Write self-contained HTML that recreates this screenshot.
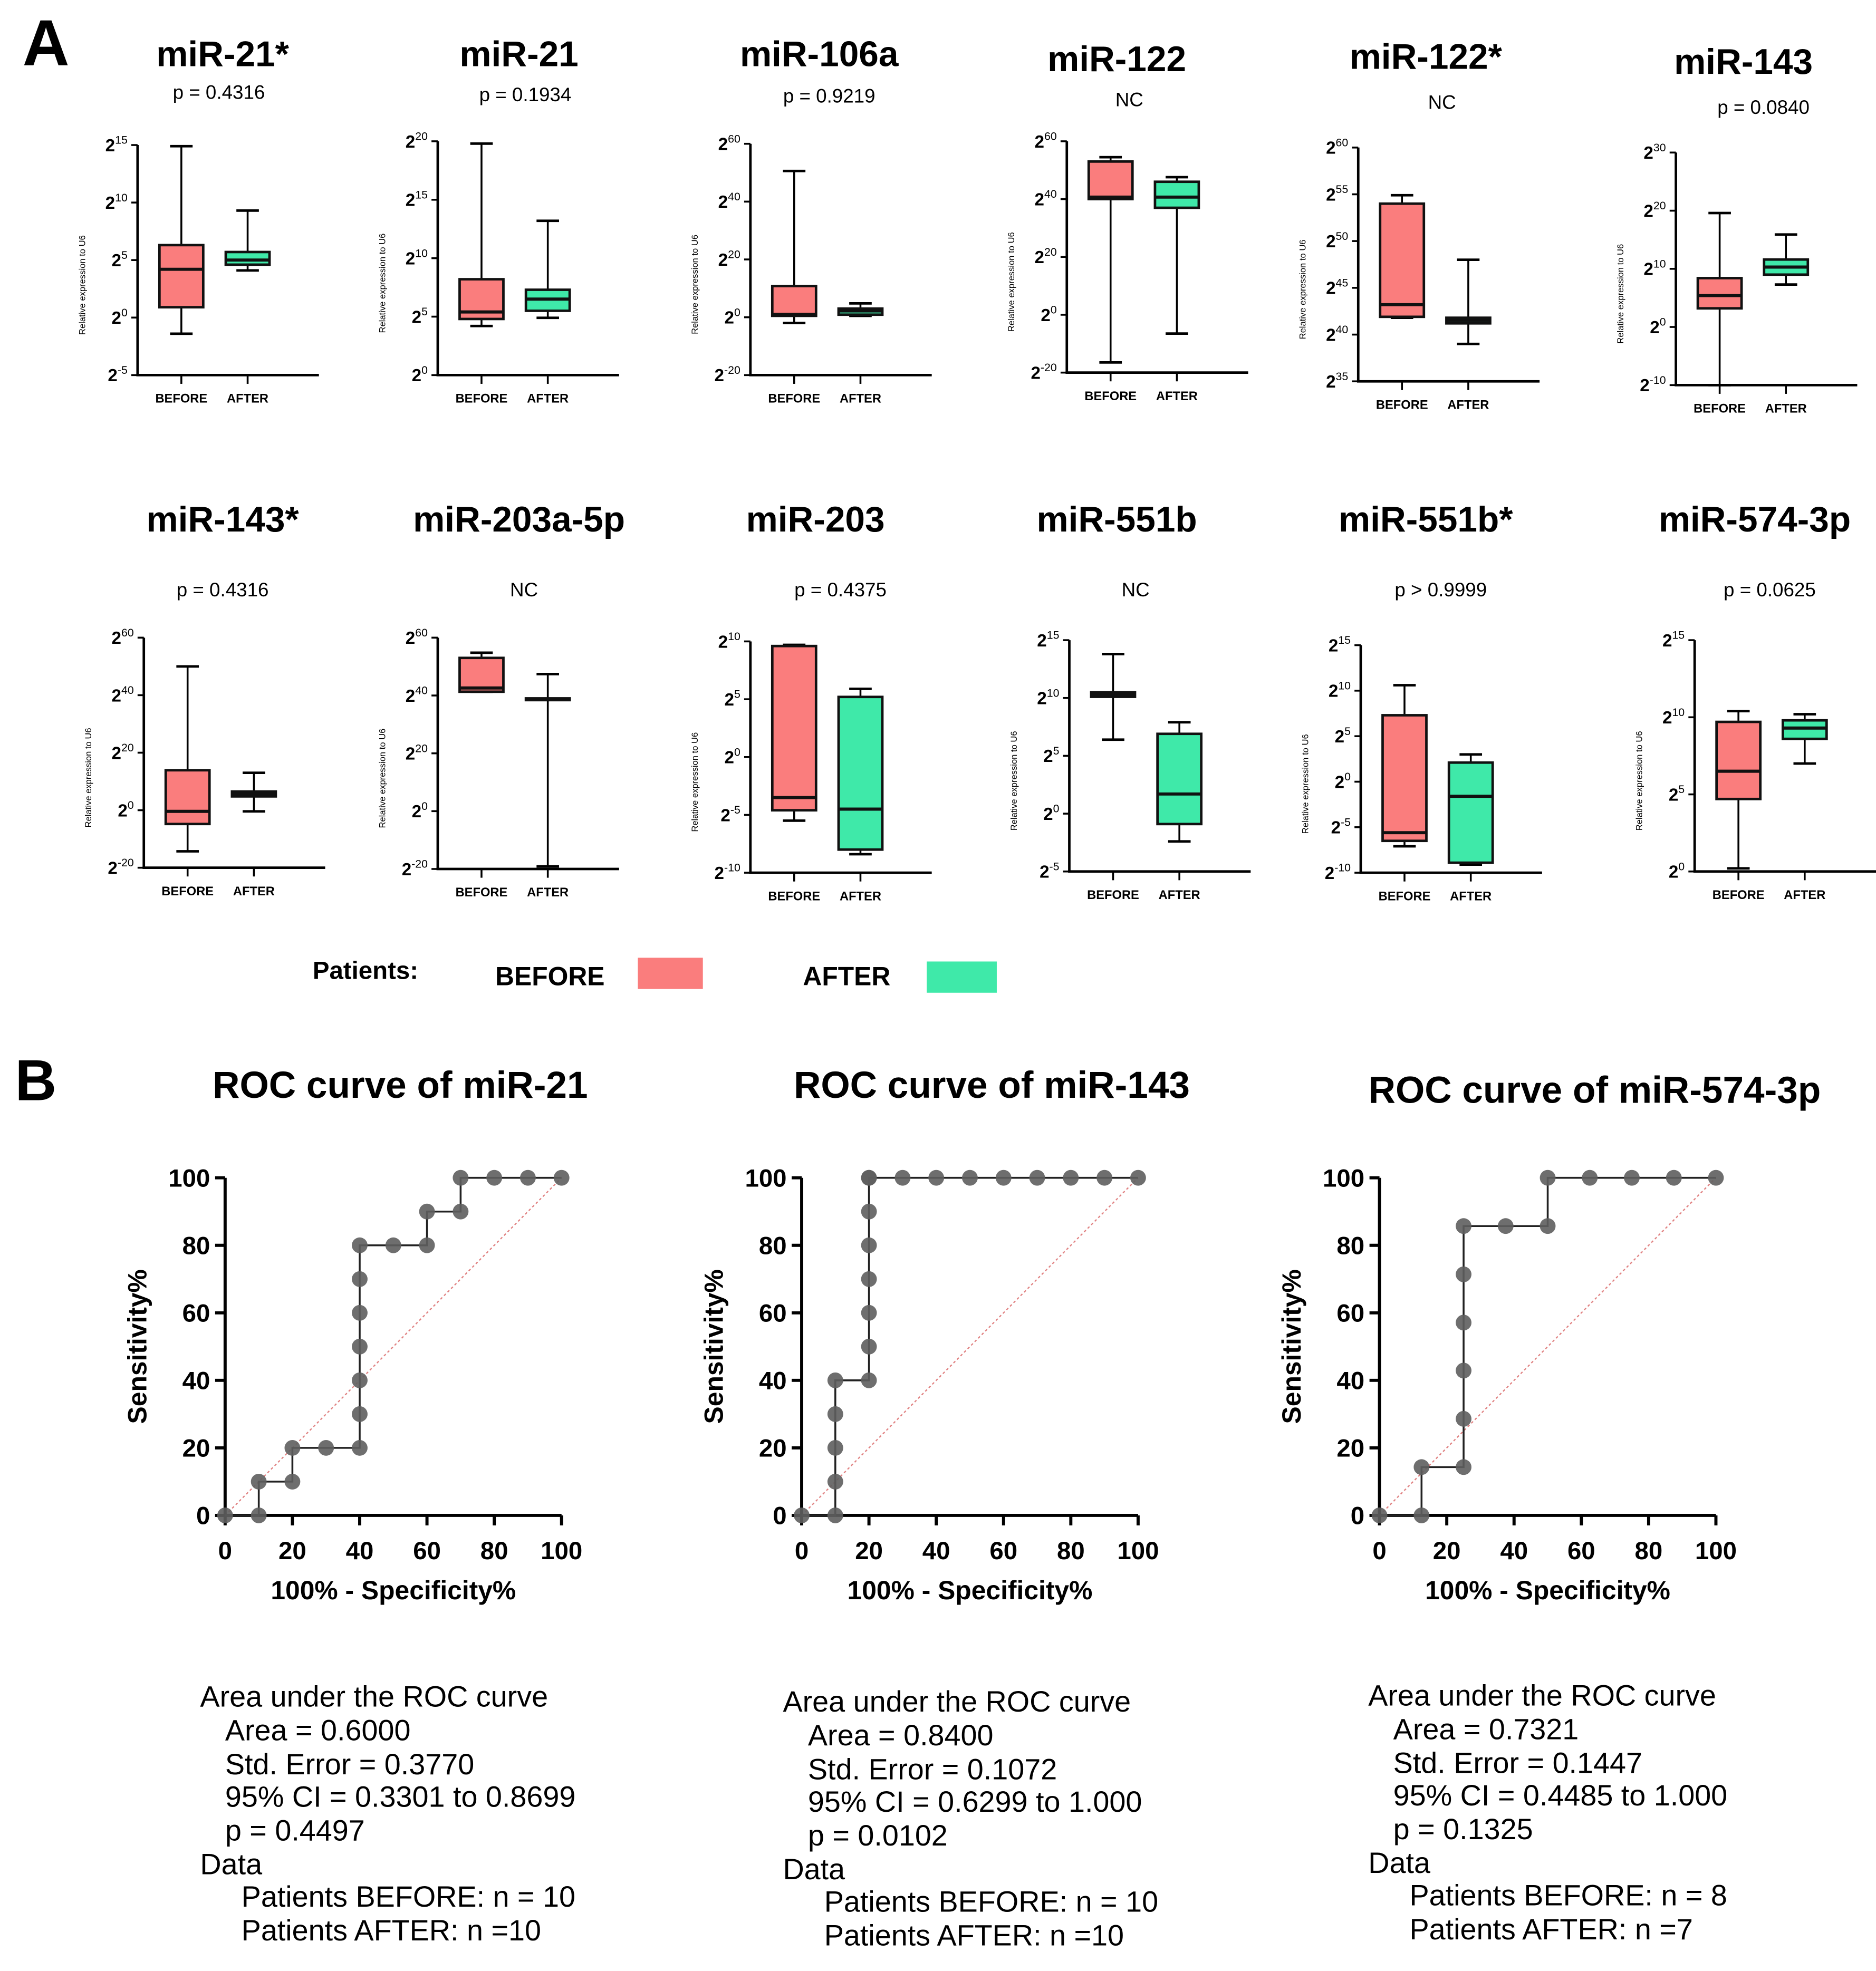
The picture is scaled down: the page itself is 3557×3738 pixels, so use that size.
<!DOCTYPE html>
<html><head><meta charset="utf-8"><style>
html,body{margin:0;padding:0;background:#fff;}
svg{display:block;}
text{font-family:"Liberation Sans",Arial,sans-serif;fill:#000;}
</style></head><body>
<svg id="fig" width="3557" height="3738" viewBox="0 0 1500 1576.4" preserveAspectRatio="none" xmlns="http://www.w3.org/2000/svg"></svg>
<script>
// ---- Box plot data (log2 exponents: min, q1, median, q3, max) ----
const boxTitles = ["miR-21*","miR-21","miR-106a","miR-122","miR-122*","miR-143","miR-143*","miR-203a-5p","miR-203","miR-551b","miR-551b*","miR-574-3p"];
const boxPvals = ["p = 0.4316","p = 0.1934","p = 0.9219","NC","NC","p = 0.0840","p = 0.4316","NC","p = 0.4375","NC","p > 0.9999","p = 0.0625"];
const beforeStats = [
  [-1.4,0.9,4.2,6.3,14.9],[4.2,4.8,5.4,8.2,19.8],[-2,0.5,1,10.8,50.6],[-16.5,40,40.7,53,54.5],
  [41.8,41.9,43.2,54,54.9],[-10,3.2,5.4,8.4,19.6],[-14.3,-4.8,-0.4,13.9,50],[41.3,41.3,42.6,53,54.8],
  [-5.5,-4.6,-3.5,9.6,9.7],[6.4,10.1,10.3,10.5,13.8],[-7.1,-6.5,-5.6,7.3,10.6],[0.2,4.7,6.5,9.7,10.4]];
const afterStats = [
  [4.1,4.6,5,5.7,9.3],[4.9,5.5,6.5,7.3,13.2],[0.5,0.9,2.2,3,4.8],[-6.5,37,40.7,46,47.6],
  [39,41.2,41.5,41.8,48],[7.3,9,10.3,11.6,15.9],[-0.4,4.8,5.6,6.5,13],[-19.1,38.4,38.7,39,47.4],
  [-8.4,-8,-4.5,5.2,5.9],[-2.4,-0.9,1.7,6.9,7.9],[-9.1,-8.9,-1.6,2.1,3],[7,8.6,9.3,9.8,10.2]];
const boxTicks = [[15,10,5,0,-5],[20,15,10,5,0],[60,40,20,0,-20],[60,40,20,0,-20],[60,55,50,45,40,35],[30,20,10,0,-10],
  [60,40,20,0,-20],[60,40,20,0,-20],[10,5,0,-5,-10],[15,10,5,0,-5],[15,10,5,0,-5,-10],[15,10,5,0]];
const groupLabels = ["BEFORE","AFTER"];
// ---- ROC data ----
const rocTitles = ["ROC curve of miR-21","ROC curve of miR-143","ROC curve of miR-574-3p"];
const roc1X = [0,10,10,20,20,30,40,40,40,40,40,40,40,50,60,60,70,70,80,90,100];
const roc1Y = [0,0,10,10,20,20,20,30,40,50,60,70,80,80,80,90,90,100,100,100,100];
const roc2X = [0,10,10,10,10,10,20,20,20,20,20,20,20,20,30,40,50,60,70,80,90,100];
const roc2Y = [0,0,10,20,30,40,40,50,60,70,80,90,100,100,100,100,100,100,100,100,100,100];
const roc3X = [0,12.5,12.5,25,25,25,25,25,25,37.5,50,50,62.5,75,87.5,100];
const roc3Y = [0,0,14.3,14.3,28.6,42.9,57.1,71.4,85.7,85.7,85.7,100,100,100,100,100];
const rocTicks = [0,20,40,60,80,100];
const rocText = [
 ["Area under the ROC curve","Area = 0.6000","Std. Error = 0.3770","95% CI = 0.3301 to 0.8699","p = 0.4497","Data","Patients BEFORE: n = 10","Patients AFTER: n =10"],
 ["Area under the ROC curve","Area = 0.8400","Std. Error = 0.1072","95% CI = 0.6299 to 1.000","p = 0.0102","Data","Patients BEFORE: n = 10","Patients AFTER: n =10"],
 ["Area under the ROC curve","Area = 0.7321","Std. Error = 0.1447","95% CI = 0.4485 to 1.000","p = 0.1325","Data","Patients BEFORE: n = 8","Patients AFTER: n =7"]];

// ---- layout (not data) ----
const panelLayout = [
 {ax:110,top:116,bot:300,tx:178,ty:43,px:175,py:74},
 {ax:350,top:113,bot:300,tx:415,ty:43,px:420,py:76},
 {ax:600,top:115,bot:300,tx:655,ty:43,px:663,py:77},
 {ax:853,top:113,bot:298,tx:893,ty:47,px:903,py:80},
 {ax:1086,top:118,bot:305,tx:1140,ty:45,px:1153,py:82},
 {ax:1340,top:122,bot:308,tx:1394,ty:49,px:1410,py:86},
 {ax:115,top:510,bot:694,tx:178,ty:415,px:178,py:472},
 {ax:350,top:510,bot:695,tx:415,ty:415,px:419,py:472},
 {ax:600,top:513,bot:698,tx:652,ty:415,px:672,py:472},
 {ax:855,top:512,bot:697,tx:893,ty:415,px:908,py:472},
 {ax:1088,top:516,bot:698,tx:1140,ty:415,px:1152,py:472},
 {ax:1355,top:512,bot:697,tx:1403,ty:415,px:1415,py:472}];
const NS="http://www.w3.org/2000/svg";
const svg=document.getElementById('fig');
function mk(tag,attrs,parent,txt){const e=document.createElementNS(NS,tag);for(const k in attrs)e.setAttribute(k,attrs[k]);if(txt!==undefined)e.textContent=txt;(parent||svg).appendChild(e);return e;}

function label(x,y,s,size,weight,anchor,name){const t=mk('text',{x:x,y:y,'font-size':size,'font-weight':weight||'normal','text-anchor':anchor||'start'},svg,s);

return t;}

label(18,52,"A",52,'bold','start','panel-a-label');
label(12,880,"B",46,'bold','start','panel-b-label');

const fills=["#fa7d7d","#3fe9a9"];
boxTitles.forEach((title,i)=>{
  const L=panelLayout[i], ticks=boxTicks[i];
  const tmax=Math.max(...ticks), tmin=Math.min(...ticks);
  const y=v=>L.bot-(v-tmin)/(tmax-tmin)*(L.bot-L.top);
  const g=mk('g',{});
  
  
  const tt=mk('text',{x:L.tx,y:L.ty+10,'font-size':28.5,'font-weight':'bold','text-anchor':'middle'},g,title);
  
  
  const pt=mk('text',{x:L.px,y:L.py+5,'font-size':15.5,'text-anchor':'middle'},g,boxPvals[i]);
  
  
  mk('line',{x1:L.ax,y1:L.top,x2:L.ax,y2:L.bot,stroke:'#000','stroke-width':2},g);
  mk('line',{x1:L.ax-1,y1:L.bot,x2:L.ax+145,y2:L.bot,stroke:'#000','stroke-width':2},g);
  ticks.forEach(t=>{
    mk('line',{x1:L.ax-5,y1:y(t),x2:L.ax,y2:y(t),stroke:'#000','stroke-width':1.5},g);
    const tl=mk('text',{x:L.ax-8,y:y(t)+5,'font-size':14,'font-weight':'bold','text-anchor':'end'},g);
    
    
    mk('tspan',{},tl,'2');
    mk('tspan',{'font-size':9,'font-weight':'normal',dy:-6},tl,String(t));
  });
  const yl=mk('text',{x:0,y:0,'font-size':7,'text-anchor':'middle',transform:`translate(${L.ax-42},${(L.top+L.bot)/2+20}) rotate(-90)`},g,'Relative expression to U6');
  
  
  [beforeStats[i],afterStats[i]].forEach((s,k)=>{
    const cx=L.ax+35+k*53, w=35;
    mk('line',{x1:cx,y1:L.bot,x2:cx,y2:L.bot+7,stroke:'#000','stroke-width':1.5},g);
    const cl=mk('text',{x:cx,y:L.bot+22,'font-size':10,'font-weight':'bold','text-anchor':'middle'},g,groupLabels[k]);
    
    
    mk('line',{x1:cx,y1:y(s[0]),x2:cx,y2:y(s[4]),stroke:'#000','stroke-width':1.5},g);
    mk('line',{x1:cx-9,y1:y(s[0]),x2:cx+9,y2:y(s[0]),stroke:'#000','stroke-width':2},g);
    mk('line',{x1:cx-9,y1:y(s[4]),x2:cx+9,y2:y(s[4]),stroke:'#000','stroke-width':2},g);
    const r=mk('rect',{x:cx-w/2,y:y(s[3]),width:w,height:Math.max(1,y(s[1])-y(s[3])),fill:fills[k],stroke:'#111','stroke-width':2},g);
    
    
    mk('line',{x1:cx-w/2,y1:y(s[2]),x2:cx+w/2,y2:y(s[2]),stroke:'#111','stroke-width':2.5},g);
  });
});

// legend
label(250,783,"Patients:",20,'bold','start','legend-title');
label(396,788,"BEFORE",21,'bold','start','legend-before-label');
const lr1=mk('rect',{x:510,y:766,width:52,height:25,fill:fills[0]});


label(642,788,"AFTER",21,'bold','start','legend-after-label');
const lr2=mk('rect',{x:741,y:769,width:56,height:25,fill:fills[1]});



// ROC
const rocX=[roc1X,roc2X,roc3X], rocY=[roc1Y,roc2Y,roc3Y];
const rocLayout=[{x0:180,tx:320,ty:878,lx:160,ly:1357},{x0:641,tx:793,ty:878,lx:626,ly:1361},{x0:1103,tx:1275,ty:882,lx:1094,ly:1356}];
rocTitles.forEach((title,i)=>{
  const L=rocLayout[i], W=269, yTop=942, yBot=1212;
  const X=v=>L.x0+v/100*W, Y=v=>yBot-v/100*(yBot-yTop);
  const g=mk('g',{});
  
  
  const t=mk('text',{x:L.tx,y:L.ty,'font-size':30,'font-weight':'bold','text-anchor':'middle'},g,title);
  
  
  mk('line',{x1:X(0),y1:Y(0),x2:X(100),y2:Y(100),stroke:'#e08080','stroke-width':1,'stroke-dasharray':'2,2'},g);
  mk('line',{x1:X(0),y1:Y(0)+1,x2:X(0),y2:Y(100),stroke:'#000','stroke-width':2.5},g);
  mk('line',{x1:X(0)-8,y1:Y(0),x2:X(100),y2:Y(0),stroke:'#000','stroke-width':2.5},g);
  rocTicks.forEach(v=>{
    mk('line',{x1:X(v),y1:Y(0),x2:X(v),y2:Y(0)+8,stroke:'#000','stroke-width':2.5},g);
    mk('line',{x1:X(0)-8,y1:Y(v),x2:X(0),y2:Y(v),stroke:'#000','stroke-width':2.5},g);
    const a=mk('text',{x:X(v),y:Y(0)+35,'font-size':20,'font-weight':'bold','text-anchor':'middle'},g,String(v));
    
    
    const b=mk('text',{x:X(0)-12,y:Y(v)+7,'font-size':20,'font-weight':'bold','text-anchor':'end'},g,String(v));
    
    
  });
  const xt=mk('text',{x:X(50),y:1279,'font-size':21,'font-weight':'bold','text-anchor':'middle'},g,'100% - Specificity%');
  
  
  const yt=mk('text',{x:0,y:0,'font-size':21,'font-weight':'bold','text-anchor':'middle',transform:`translate(${L.x0-63},${Y(50)}) rotate(-90)`},g,'Sensitivity%');
  
  
  const xs=rocX[i], ys=rocY[i];
  const pts=xs.map((v,j)=>X(v)+','+Y(ys[j])).join(' ');
  const pl=mk('polyline',{points:pts,fill:'none',stroke:'#222','stroke-width':1.5},g);
  
  
  xs.forEach((v,j)=>{
    const c=mk('circle',{cx:X(v),cy:Y(ys[j]),r:6.3,fill:'#5e5e5e','fill-opacity':0.9},g);
    
    
  });
  const ind=[0,20,20,20,20,0,33,33], dy=[0,27,54,80,107,134,160,187];
  rocText[i].forEach((s,j)=>{
    const tx=mk('text',{x:L.lx+ind[j],y:L.ly+dy[j]+8,'font-size':23.5},g,s);
    
    
  });
});
</script>
</body></html>
